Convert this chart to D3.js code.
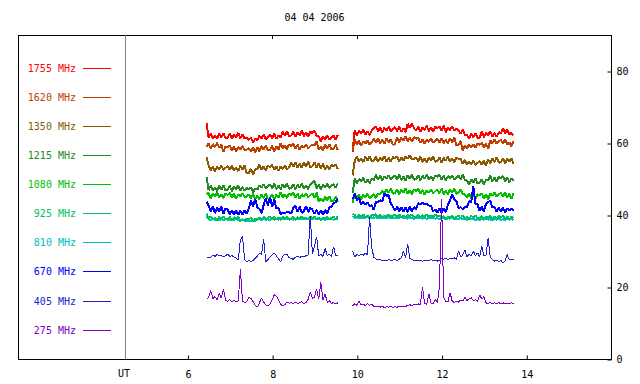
<!DOCTYPE html>
<html>
<head>
<meta charset="utf-8">
<script src="https://cdn.jsdelivr.net/npm/d3@7/dist/d3.min.js"></script>
<style>
  html, body { margin: 0; padding: 0; background: #fff; }
  svg { display: block; }
  text { font-family: "DejaVu Sans Mono", monospace; font-size: 10px; }
</style>
</head>
<body>
<div id="chart"></div>
<script>
const title = "04 04 2006";
const freqs = ["1755", "1620", "1350", "1215", "1080", "925", "810", "670", "405", "275"];
const colors = ["#ff0000", "#c04000", "#8b5a00", "#228b22", "#00c000", "#00c060", "#00c0c0", "#0000ff", "#2222cc", "#8000c8"];
const widths = [2, 2, 2, 2, 2, 2, 2, 2, 1, 1];
const xTicks = [6, 8, 10, 12, 14];
const yTicks = [0, 20, 40, 60, 80];
const topTicks = [8, 10];

// two recording segments, sampled every 0.05 h
const segA = { start: 6.45, step: 0.05 };
const segB = { start: 9.90, step: 0.05 };

const f1755a = [65.5,61.4,62.7,61.2,62.2,61.1,62.6,61.5,62.8,61.3,
  61.5,62.6,61.1,62.4,61.6,62.8,61.3,62.3,61.2,61.4,
  60.9,61.5,60.1,61.2,60.7,62.0,61.3,62.3,61.1,61.7,
  62.4,61.3,62.6,61.1,62.1,61.6,63.1,62.0,63.3,61.8,
  62.1,63.2,61.7,63.0,62.2,63.4,61.9,62.9,61.8,63.1,
  62.8,63.4,62.0,61.9,60.5,61.8,61.1,62.1,60.9,61.5,
  62.0,60.9,62.2];
const f1755b = [57.6,63.6,62.1,63.4,62.6,63.8,62.3,63.3,62.2,63.5,
  64.0,64.6,63.2,64.3,62.9,64.2,63.5,64.5,63.3,63.9,
  64.4,63.3,64.6,63.1,64.1,63.0,65.3,64.2,65.5,64.0,
  63.5,64.6,63.1,64.4,63.6,64.8,63.3,64.3,63.2,64.5,
  64.1,64.7,63.3,64.8,63.0,64.3,63.6,64.6,63.4,64.0,
  63.6,62.5,63.8,62.3,62.2,61.1,62.6,61.5,62.8,61.3,
  61.5,63.1,61.6,62.9,62.1,63.3,61.8,62.8,61.7,63.0,
  62.6,64.1,62.7,63.8,62.4,62.8,62.1];

const f1620a = [58.8,59.9,58.4,59.7,58.9,60.1,58.6,59.6,57.5,59.1,
  58.7,59.3,57.9,59.0,57.6,58.9,58.2,59.2,58.0,58.1,
  58.6,57.5,58.8,57.3,58.8,57.7,59.2,58.1,59.4,57.9,
  58.1,59.2,57.7,59.0,58.2,59.9,58.4,59.4,58.3,59.6,
  59.2,59.8,58.4,59.5,58.1,59.4,58.7,59.7,58.5,59.1,
  59.6,59.3,60.6,58.1,59.1,58.0,59.5,58.4,59.7,58.2,
  58.4,59.5,58.0];
const f1620b = [57.8,60.9,59.5,60.6,59.2,60.5,59.8,60.8,59.6,60.2,
  61.2,60.1,61.4,59.9,60.9,59.8,61.3,60.2,61.0,59.5,
  59.7,61.7,60.2,61.5,60.7,61.9,60.4,61.4,60.3,61.6,
  61.2,61.4,60.0,61.1,59.7,61.0,60.3,61.3,60.1,60.7,
  61.2,60.1,61.4,59.9,60.9,59.8,61.3,60.2,61.5,59.3,
  59.5,60.6,57.9,59.2,58.4,59.6,58.7,59.7,58.6,59.9,
  59.5,60.1,58.7,59.8,58.4,60.7,60.0,61.0,59.8,60.4,
  60.9,59.8,61.1,59.6,60.2,59.1,60.6];

const f1350a = [56.2,53.8,52.4,53.5,52.1,53.4,52.7,53.7,52.5,53.1,
  53.6,52.5,53.8,52.3,53.3,52.2,53.7,52.6,53.9,51.5,
  51.7,52.8,51.3,52.6,52.8,54.0,52.5,53.5,52.4,53.7,
  53.3,53.9,52.5,53.6,52.2,53.5,52.8,53.8,52.6,53.2,
  54.5,53.4,54.7,53.2,54.2,53.1,54.6,53.5,54.8,53.3,
  53.5,54.6,53.1,54.4,53.0,54.2,52.7,53.7,52.6,53.9,
  53.5,54.1,52.7];
const f1350b = [51.0,55.0,56.3,54.8,55.8,54.7,56.2,55.1,56.4,54.9,
  55.1,56.2,54.7,56.0,55.2,56.4,54.9,55.9,54.8,56.1,
  55.7,56.3,54.9,56.0,55.0,56.3,55.6,56.6,55.4,55.5,
  56.0,54.9,56.2,54.7,55.7,54.6,56.1,55.0,56.3,54.8,
  55.0,56.1,54.6,55.9,55.1,56.3,54.8,55.8,54.7,56.0,
  55.6,55.6,54.2,55.3,53.9,54.8,54.1,55.1,53.9,54.5,
  55.0,53.9,55.2,53.7,55.4,54.3,55.8,54.7,56.0,54.5,
  54.7,55.8,54.3,55.6,54.8,55.8,54.3];

const f1215a = [50.6,46.9,48.2,46.7,47.7,46.6,48.1,47.0,48.3,46.8,
  47.0,48.1,46.6,47.9,47.1,48.3,46.8,47.8,46.7,47.5,
  47.1,47.7,46.3,47.4,47.0,48.3,47.6,48.6,47.4,48.0,
  48.5,47.4,48.7,47.2,48.2,47.1,48.6,47.5,48.8,47.3,
  47.5,48.6,47.1,48.4,47.6,48.8,47.3,48.3,47.2,48.5,
  48.9,49.5,47.4,48.5,47.1,48.4,47.7,48.7,47.5,48.1,
  48.6,47.5,48.8];
const f1215b = [46.1,50.2,48.7,50.0,49.2,50.4,48.9,49.9,48.8,50.1,
  49.7,51.2,49.8,50.9,49.5,50.8,50.1,51.1,49.9,50.5,
  51.0,49.9,51.2,49.7,50.7,49.6,51.1,50.0,51.3,49.8,
  50.0,51.1,49.6,50.9,50.1,51.3,49.8,50.8,49.7,51.0,
  50.6,51.2,49.8,50.9,49.5,50.8,50.1,51.1,49.9,50.5,
  51.0,49.9,51.2,49.7,49.6,48.5,50.0,48.9,50.2,48.7,
  48.9,50.0,48.5,49.8,49.7,50.9,49.4,50.4,49.3,50.6,
  50.2,50.8,49.4,50.5,49.1,50.2,49.5];

const f1080a = [45.8,46.1,44.6,45.9,45.1,46.3,44.8,45.8,44.7,46.0,
  45.6,46.2,44.8,45.9,44.5,45.8,45.1,46.1,44.9,45.2,
  45.7,44.6,45.9,44.4,45.4,44.3,45.8,44.7,46.0,44.5,
  44.7,45.8,44.3,45.6,44.8,46.3,44.8,45.8,44.7,46.0,
  45.6,46.2,44.8,45.9,44.5,45.8,45.1,46.1,44.9,45.5,
  46.0,44.9,46.2,43.7,44.7,43.6,45.1,44.0,45.3,43.8,
  44.0,45.1,43.6];
const f1080b = [43.3,46.0,44.6,45.7,44.3,45.6,44.9,45.9,44.7,45.3,
  45.8,44.7,46.0,45.8,46.8,45.7,47.2,46.1,47.4,45.9,
  46.1,47.2,45.7,47.0,46.2,47.4,45.9,46.9,45.8,47.1,
  46.7,47.3,45.9,47.0,45.6,46.9,46.2,47.2,46.0,46.6,
  47.1,46.0,47.3,45.8,46.8,45.7,47.2,46.1,47.4,45.9,
  46.1,47.2,45.7,45.7,44.9,46.1,44.6,45.6,44.5,45.8,
  45.4,46.0,44.6,45.7,44.3,46.0,45.3,46.3,45.1,45.7,
  46.2,45.1,46.4,44.9,45.9,44.5,46.0];

const f925a = [40.4,38.8,39.6,38.7,39.3,38.6,39.5,38.9,39.6,38.7,
  38.9,39.5,38.6,39.4,38.9,39.6,38.3,38.9,38.3,39.1,
  38.8,39.2,38.3,39.0,38.6,39.3,38.9,39.5,38.8,39.2,
  39.5,38.8,39.6,38.7,39.3,38.6,39.5,38.9,39.6,38.7,
  38.9,39.5,38.6,39.4,38.9,39.6,38.7,39.3,38.7,39.5,
  39.2,39.6,38.7,39.4,38.6,39.3,38.9,39.5,38.8,39.2,
  39.5,38.8,39.6];
const f925b = [40.3,40.1,39.2,40.0,39.5,40.2,39.3,39.9,39.3,40.1,
  39.8,40.2,39.3,40.0,39.2,39.9,39.5,40.1,39.4,39.8,
  40.1,39.4,40.2,39.3,39.9,39.2,40.1,39.5,40.2,39.3,
  39.5,40.1,39.2,40.0,39.5,40.2,39.3,39.9,39.3,40.1,
  39.6,39.9,39.0,39.7,38.9,39.6,39.2,39.8,39.1,39.5,
  39.8,39.1,39.9,39.0,39.6,38.9,39.8,39.2,39.9,39.0,
  39.1,39.7,38.8,39.6,39.1,39.8,38.9,39.5,38.9,39.7,
  39.4,39.8,38.9,39.6,38.8,39.5,39.1];

const f810a = [39.8,38.9,38.6,39.0,38.7,38.8,38.5,38.9,38.6,39.0,
  38.7,38.5,38.8,38.6,38.9,38.6,38.4,38.8,38.5,38.3,
  38.5,38.2,38.6,38.3,38.7,38.8,38.6,38.9,38.7,38.8,
  38.6,38.9,38.7,39.0,38.7,39.1,38.8,39.2,38.9,38.8,
  39.0,38.7,38.9,38.8,39.1,38.8,39.2,38.9,38.8,39.0,
  38.9,39.1,38.8,38.9,38.7,38.9,38.6,38.9,38.8,39.0,
  38.7,38.9,38.8];
const f810b = [39.7,39.2,39.4,39.1,39.3,39.0,39.3,39.4,39.1,39.3,
  39.2,39.4,39.1,39.3,39.0,39.3,39.2,39.4,39.1,39.2,
  39.0,39.3,39.2,39.4,39.1,39.2,39.0,39.3,39.2,38.9,
  39.2,39.1,39.3,39.0,39.2,38.9,39.2,39.1,39.3,39.0,
  39.1,38.9,39.2,39.1,38.8,39.1,39.0,39.2,38.9,39.0,
  38.8,39.1,38.9,39.0,38.7,38.9,38.8,39.0,38.6,38.8,
  38.6,38.9,38.7,39.0,38.7,38.8,38.5,38.9,38.7,39.0,
  38.7,38.8,38.6,38.9,38.7,38.8,38.6];

const f670a = [43.7,42.6,41.0,42.5,40.5,42.2,40.8,42.4,40.4,41.9,
  41.5,40.2,41.4,40.1,41.3,40.0,41.2,40.1,41.4,40.3,
  41.9,44.0,42.4,44.5,42.1,41.7,40.5,42.8,44.6,42.7,
  45.0,42.3,44.3,41.8,42.0,40.2,40.7,40.4,40.9,40.8,
  40.4,42.0,42.6,40.9,42.3,40.6,41.1,42.5,40.8,42.0,
  41.5,40.3,41.4,40.2,41.3,40.1,41.4,40.4,42.1,42.2,
  43.3,43.6,44.6];
const f670b = [44.4,45.9,44.1,44.8,42.9,43.7,42.8,43.6,42.5,42.7,
  41.4,43.6,43.5,44.1,43.8,45.9,45.3,45.6,43.2,42.4,
  41.1,42.3,41.0,42.2,40.9,42.1,40.8,42.3,41.0,42.2,
  41.6,43.3,42.9,43.4,43.0,43.2,42.6,42.6,41.0,41.6,
  40.6,41.8,40.7,41.9,40.8,42.8,44.1,45.7,44.3,43.9,
  41.9,42.2,41.6,42.3,42.2,43.8,43.5,48.0,43.1,42.9,
  41.1,42.3,41.0,43.2,43.6,43.9,42.1,42.2,40.9,42.1,
  40.9,42.0,40.8,41.9,41.3,41.8,41.2];

const f405a = [28.4,28.1,28.3,28.9,28.5,29.0,28.6,28.8,28.4,28.7,
  29.1,28.5,28.7,28.3,28.1,27.5,33.1,34.0,27.6,27.0,
  27.3,27.1,27.4,27.9,28.6,29.4,29.1,33.3,27.0,27.6,
  28.3,28.9,29.4,28.7,27.8,27.0,28.6,29.1,29.0,28.2,
  27.9,27.7,28.3,28.5,28.2,28.6,28.4,28.7,28.9,39.8,
  29.2,31.4,34.0,28.6,29.1,28.5,30.7,28.8,29.2,28.4,
  31.2,28.7,28.9];
const f405b = [30.0,28.4,29.0,28.7,29.2,28.8,29.4,28.9,39.5,31.0,
  28.3,27.8,27.5,27.6,27.4,27.5,27.3,27.6,27.4,27.5,
  27.6,27.4,27.7,28.1,30.0,28.2,32.0,27.9,27.6,27.4,
  27.5,27.3,27.4,27.2,27.5,27.3,27.4,27.6,27.3,27.5,
  27.2,27.4,27.9,27.7,28.0,27.6,27.9,27.8,28.1,27.7,
  30.0,28.3,28.9,30.3,28.4,29.0,28.6,30.0,28.7,29.5,
  28.4,31.5,28.6,28.9,33.6,28.2,27.6,27.2,27.5,27.0,
  27.4,26.7,27.3,29.0,27.5,27.7,27.5];

const f275a = [16.6,17.1,19.0,16.8,17.3,16.5,18.2,16.9,19.4,16.4,
  16.0,16.5,15.9,16.3,15.8,16.2,24.9,16.1,15.7,15.9,
  17.1,16.8,15.9,15.0,14.4,15.6,16.9,15.8,15.1,14.7,
  15.3,16.4,17.8,17.5,16.3,15.2,14.7,15.1,15.8,15.5,
  15.7,15.4,15.8,15.5,15.6,15.9,15.4,15.7,16.6,18.7,
  16.9,17.2,19.4,16.6,21.3,16.4,18.1,15.8,16.2,15.4,
  15.7,15.3,15.6];
const f275b = [14.8,15.4,14.9,16.1,15.0,15.3,14.8,15.5,14.9,15.2,
  14.6,14.5,14.7,14.4,14.6,14.3,14.5,14.4,14.6,14.3,
  14.5,14.4,14.6,14.5,14.7,14.6,14.9,15.1,14.8,15.2,
  15.0,15.3,15.1,20.1,15.4,15.2,18.1,15.5,15.3,16.6,
  15.6,20.1,44.4,17.1,16.0,15.8,18.4,16.1,15.7,16.0,
  15.8,16.4,16.1,17.1,16.3,16.7,17.0,16.2,16.5,15.9,
  17.8,16.6,17.3,15.6,15.4,15.7,15.3,15.6,15.4,15.7,
  15.3,15.6,15.4,15.5,15.3,15.6,15.4];

const valuesA = [f1755a, f1620a, f1350a, f1215a, f1080a, f925a, f810a, f670a, f405a, f275a];
const valuesB = [f1755b, f1620b, f1350b, f1215b, f1080b, f925b, f810b, f670b, f405b, f275b];
// draw order: high frequencies first, 810 under 925, low frequencies on top
const drawOrder = [0, 1, 2, 3, 4, 6, 5, 7, 8, 9];

const W = 640, H = 384;
const frame = { left: 18, right: 611, top: 35, bottom: 359 };

const svg = d3.select("#chart").append("svg")
  .attr("width", W).attr("height", H);

const x = d3.scaleLinear().domain([2, 16]).range([frame.left, frame.right]);
const y = d3.scaleLinear().domain([0, 90]).range([frame.bottom, frame.top]);

svg.append("text")
  .attr("x", (frame.left + frame.right) / 2)
  .attr("y", 21)
  .attr("text-anchor", "middle")
  .attr("fill", "#000")
  .text(title);

svg.append("rect")
  .attr("x", frame.left + 0.5).attr("y", frame.top + 0.5)
  .attr("width", frame.right - frame.left).attr("height", frame.bottom - frame.top)
  .attr("fill", "none").attr("stroke", "#000");

// divider between legend and plot
svg.append("line")
  .attr("x1", 125.5).attr("x2", 125.5)
  .attr("y1", frame.top).attr("y2", frame.bottom)
  .attr("stroke", "#808080");

const xAxis = svg.append("g")
  .attr("transform", `translate(0.5,${frame.bottom + 0.5})`)
  .call(d3.axisBottom(x).tickValues(xTicks).tickSize(-4).tickPadding(11).tickFormat(d3.format("d")));
xAxis.select(".domain").remove();
xAxis.selectAll("text").attr("font-family", null).attr("font-size", null).attr("fill", "#000");

svg.append("text")
  .attr("x", 124).attr("y", 377)
  .attr("text-anchor", "middle")
  .text("UT");

svg.append("g").selectAll("line")
  .data(topTicks)
  .join("line")
  .attr("x1", d => Math.round(x(d)) + 0.5).attr("x2", d => Math.round(x(d)) + 0.5)
  .attr("y1", frame.top).attr("y2", frame.top + 4)
  .attr("stroke", "#000");

const yAxis = svg.append("g")
  .attr("transform", `translate(${frame.right + 0.5},0.5)`)
  .call(d3.axisRight(y).tickValues(yTicks).tickSize(-4).tickPadding(5));
yAxis.select(".domain").remove();
yAxis.selectAll("text").attr("font-family", null).attr("font-size", null).attr("fill", "#000");

// legend
const legendY = i => 68 + i * 29.07;
const legend = svg.append("g").selectAll("g")
  .data(freqs)
  .join("g")
  .attr("transform", (d, i) => `translate(0,${Math.round(legendY(i))})`);
legend.append("text")
  .attr("x", 76).attr("y", 4)
  .attr("text-anchor", "end")
  .attr("fill", (d, i) => colors[i])
  .text(d => `${d} MHz`);
legend.append("line")
  .attr("x1", 83).attr("x2", 111)
  .attr("y1", 0.5).attr("y2", 0.5)
  .attr("stroke", (d, i) => colors[i]);

const line = d3.line()
  .x(d => x(d.t))
  .y(d => y(d.v));

const toPoints = (vals, seg) => vals.map((v, i) => ({ t: seg.start + i * seg.step, v }));

const plot = svg.append("g");
drawOrder.forEach(k => {
  [[valuesA[k], segA], [valuesB[k], segB]].forEach(([vals, seg]) => {
    plot.append("path")
      .datum(toPoints(vals, seg))
      .attr("fill", "none")
      .attr("stroke", colors[k])
      .attr("stroke-width", widths[k])
      .attr("stroke-linejoin", "bevel")
      .attr("shape-rendering", "crispEdges")
      .attr("d", line);
  });
});
</script>
</body>
</html>
